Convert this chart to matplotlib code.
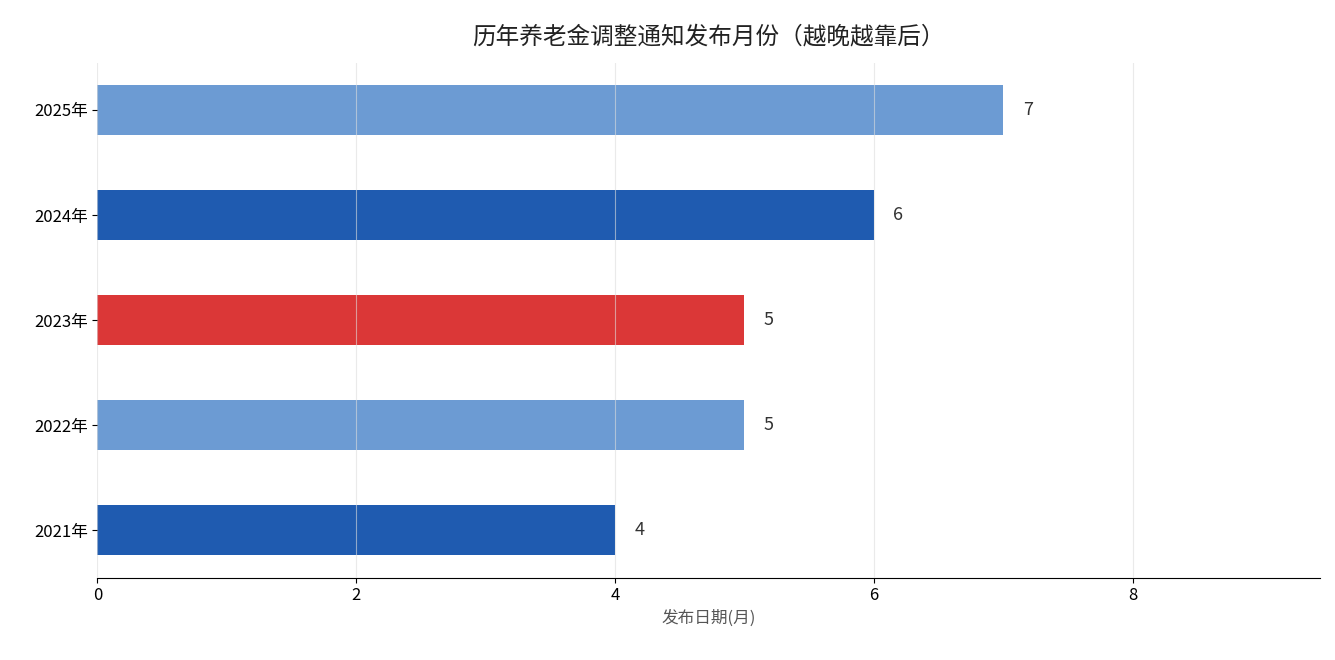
import matplotlib.pyplot as plt

plt.rcParams['font.family'] = ['Noto Sans CJK SC', 'DejaVu Sans']

years = ['2021年', '2022年', '2023年', '2024年', '2025年']
months = [4, 5, 5, 6, 7]
colors = ['#1f5bb0', '#6c9bd3', '#db3737', '#1f5bb0', '#6c9bd3']

fig, ax = plt.subplots(figsize=(13.35, 6.6), dpi=100)
fig.subplots_adjust(left=0.073, right=0.989, top=0.905, bottom=0.125)

ax.barh(years, months, height=0.48, color=colors, zorder=1)
for i, v in enumerate(months):
    ax.text(v + 0.15, i, str(v), va='center', ha='left', fontsize=13, color='#333333')

ax.set_xlim(0, 9.45)
ax.set_ylim(-0.45, 4.45)
ax.set_xticks([0, 2, 4, 6, 8])
ax.grid(axis='x', color='#dddddd', alpha=0.6, linewidth=0.8, zorder=2)
ax.set_axisbelow(False)
for s in ['top', 'right', 'left']:
    ax.spines[s].set_visible(False)
ax.tick_params(axis='both', labelsize=12)
ax.set_xlabel('发布日期(月)', fontsize=12, color='#555555')
ax.set_title('历年养老金调整通知发布月份（越晚越靠后）', fontsize=17, color='#222222', pad=14)

fig.savefig('out.png')
